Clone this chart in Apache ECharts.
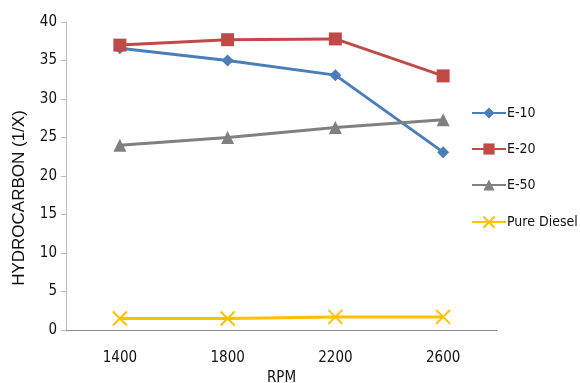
<!DOCTYPE html>
<html><head><meta charset="utf-8">
<script src="https://cdn.jsdelivr.net/npm/echarts@6/dist/echarts.min.js"></script>
<style>html,body{margin:0;padding:0;background:#fff}#c{width:580px;height:383px}</style>
</head><body><div id="c"></div>
<script>
const categories = ['1400','1800','2200','2600'];
const e10 = [36.6, 35.0, 33.1, 23.1];
const e20 = [37.0, 37.7, 37.8, 33.0];
const e50 = [24.0, 25.0, 26.3, 27.3];
const pureDiesel = [1.5, 1.5, 1.7, 1.7];
const seriesNames = ['E-10','E-20','E-50','Pure Diesel'];
const yTitle = 'HYDROCARBON (1/X)';
const colors = ['#4a7ebb','#be4b48','#808080','#ffc000'];
const symbols = ['diamond','rect','triangle','path://M0,0 L10,10 M10,0 L0,10'];
const symbolSizes = [12, 13, 13, 14];
const dataSets = [e10, e20, e50, pureDiesel];

const chart = echarts.init(document.getElementById('c'));
const font = 'Liberation Sans Narrow, DejaVu Sans Condensed, Liberation Sans, sans-serif';
chart.setOption({
  animation: false,
  color: colors,
  grid: { left: 66, right: 83, top: 22, bottom: 53, outerBoundsMode: 'none', containLabel: false },
  graphic: [{
    type: 'text', x: 19, y: 198, rotation: Math.PI / 2,
    style: { text: yTitle, fontFamily: 'Liberation Sans, sans-serif', fontSize: 17, fill: '#111',
      letterSpacing: 1.5, align: 'center', verticalAlign: 'middle' }
  }],
  legend: {
    orient: 'vertical', left: 466, top: 101, itemGap: 22,
    itemWidth: 34, itemHeight: 14,
    textStyle: { fontFamily: font, fontSize: 14, color: '#111', padding: [0,0,0,-4] },
    data: seriesNames
  },
  xAxis: {
    type: 'category', data: categories, boundaryGap: true,
    name: 'RPM', nameLocation: 'middle', nameGap: 38,
    nameTextStyle: { fontFamily: font, fontSize: 15, color: '#111' },
    axisLine: { lineStyle: { color: '#888', width: 1 } },
    axisTick: { show: false },
    axisLabel: { fontFamily: font, fontSize: 15, color: '#111', margin: 21 }
  },
  yAxis: {
    type: 'value', min: 0, max: 40, interval: 5,
    axisLine: { show: true, lineStyle: { color: '#bbb', width: 1 } },
    axisTick: { show: true, length: 5, lineStyle: { color: '#bbb' } },
    splitLine: { show: false },
    axisLabel: { fontFamily: font, fontSize: 15, color: '#111', margin: 9 }
  },
  series: dataSets.map((d, i) => ({
    name: seriesNames[i], type: 'line', data: d,
    symbol: symbols[i], symbolSize: symbolSizes[i],
    lineStyle: { width: 3, color: colors[i] },
    itemStyle: i === 3 ? { color: 'none', borderColor: colors[i], borderWidth: 2 } : { color: colors[i] }
  }))
});
</script></body></html>
